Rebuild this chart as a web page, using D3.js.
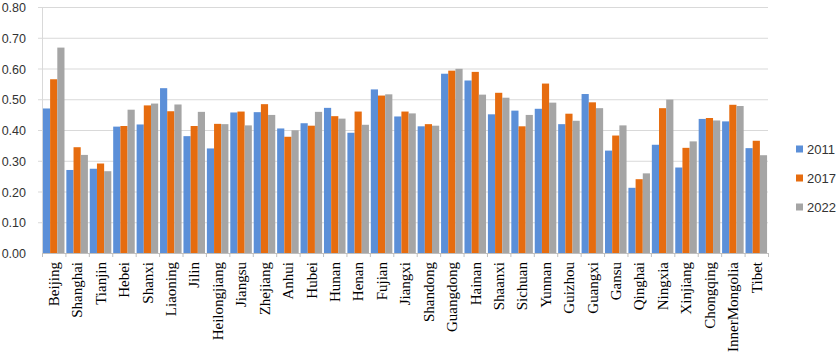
<!DOCTYPE html>
<html><head><meta charset="utf-8">
<script src="https://cdn.jsdelivr.net/npm/d3@7/dist/d3.min.js"></script>
<style>body{margin:0;background:#fff}svg{display:block}</style>
</head><body>
<script>
const categories = ["Beijing","Shanghai","Tianjin","Hebei","Shanxi","Liaoning","Jilin","Heilongjiang","Jiangsu","Zhejiang","Anhui","Hubei","Hunan","Henan","Fujian","Jiangxi","Shandong","Guangdong","Hainan","Shaanxi","Sichuan","Yunnan","Guizhou","Guangxi","Gansu","Qinghai","Ningxia","Xinjiang","Chongqing","InnerMongolia","Tibet"];
const seriesNames = ["2011","2017","2022"];
const v2011 = [0.470,0.270,0.274,0.411,0.418,0.536,0.380,0.340,0.457,0.458,0.405,0.422,0.472,0.391,0.532,0.444,0.412,0.583,0.561,0.451,0.463,0.469,0.419,0.517,0.333,0.212,0.352,0.278,0.436,0.428,0.341];
const v2017 = [0.565,0.344,0.291,0.413,0.480,0.461,0.413,0.420,0.460,0.484,0.378,0.414,0.445,0.460,0.512,0.460,0.419,0.593,0.589,0.521,0.412,0.551,0.453,0.490,0.382,0.240,0.471,0.342,0.439,0.482,0.365];
const v2022 = [0.668,0.319,0.266,0.466,0.486,0.483,0.459,0.419,0.415,0.449,0.399,0.459,0.437,0.417,0.516,0.454,0.414,0.599,0.515,0.505,0.449,0.489,0.430,0.471,0.415,0.259,0.499,0.363,0.431,0.478,0.318];
const yTicks = [0,0.1,0.2,0.3,0.4,0.5,0.6,0.7,0.8];
const colors = ["#5b8fd8","#e66c0f","#a5a5a5"];
const values = [v2011, v2017, v2022];

const W = 837, H = 358;
const m = {left: 42, top: 7};
const svg = d3.select("body").append("svg").attr("width", W).attr("height", H);

const x = d3.scaleBand().domain(categories).range([m.left, 768]).paddingInner(0).paddingOuter(0);
const xs = d3.scaleBand().domain(seriesNames).range([0, x.bandwidth()]).paddingInner(0).paddingOuter(0.13);
const y = d3.scaleLinear().domain([0, 0.8]).range([253, m.top]);

// gridlines (with small tick stubs left of the axis)
svg.append("g").selectAll("line").data(yTicks.filter(d => d > 0)).join("line")
  .attr("x1", m.left - 4).attr("x2", 768)
  .attr("y1", d => y(d) + 0.5).attr("y2", d => y(d) + 0.5)
  .attr("stroke", "#d9d9d9").attr("stroke-width", 1);

// left axis line
svg.append("line").attr("x1", m.left + 0.5).attr("x2", m.left + 0.5)
  .attr("y1", y(0.8)).attr("y2", y(0)).attr("stroke", "#d9d9d9");

// y labels
const yAxis = d3.axisLeft(y).tickValues(yTicks).tickFormat(d3.format(".2f")).tickSize(0).tickPadding(16);
const yg = svg.append("g").attr("transform", `translate(${m.left},0)`).call(yAxis);
yg.select(".domain").remove();
yg.selectAll("text").attr("dy", "0.36em").attr("font-family", "'Liberation Sans', Arial, sans-serif").attr("font-size", 12.5).attr("fill", "#333");

// bars
const groups = svg.append("g").selectAll("g").data(categories).join("g")
  .attr("transform", d => `translate(${x(d)},0)`);
groups.selectAll("rect").data((d, i) => seriesNames.map((s, j) => ({s, v: values[j][i], j}))).join("rect")
  .attr("x", d => xs(d.s)).attr("width", xs.bandwidth())
  .attr("y", d => y(d.v)).attr("height", d => y(0) - y(d.v))
  .attr("fill", d => colors[d.j]);

// x axis
const xAxis = d3.axisBottom(x).tickSize(0).tickPadding(0);
const xg = svg.append("g").attr("transform", `translate(0,${y(0)})`).call(xAxis);
xg.select(".domain").attr("stroke", "#bfbfbf");
xg.selectAll("text").attr("transform", "rotate(-90)")
  .attr("text-anchor", "end").attr("dy", "0.35em").attr("x", -9).attr("y", 0)
  .attr("font-family", "'Liberation Serif', serif").attr("font-size", 15).attr("fill", "#000");
// boundary ticks
svg.append("g").selectAll("line").data(d3.range(categories.length + 1)).join("line")
  .attr("x1", i => m.left + i * x.step() + 0.5).attr("x2", i => m.left + i * x.step() + 0.5)
  .attr("y1", y(0)).attr("y2", y(0) + 4).attr("stroke", "#bfbfbf");

// legend
const lg = svg.append("g").selectAll("g").data(seriesNames).join("g")
  .attr("transform", (d, i) => `translate(796,${149 + i * 29})`);
lg.append("rect").attr("x", 0).attr("y", -3.5).attr("width", 7).attr("height", 7).attr("fill", (d, i) => colors[i]);
lg.append("text").attr("x", 11).attr("y", 0).attr("dy", "0.36em")
  .attr("font-family", "'Liberation Sans', Arial, sans-serif").attr("font-size", 13).attr("fill", "#333").text(d => d);
</script>
</body></html>
